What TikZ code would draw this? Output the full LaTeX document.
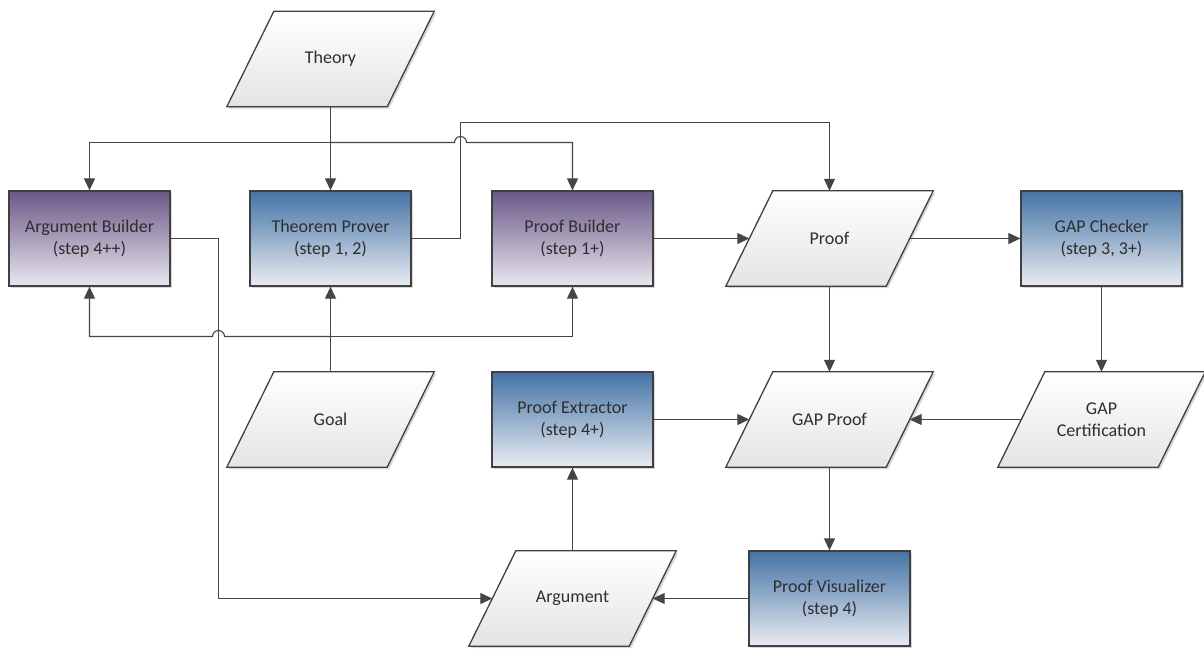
\documentclass[tikz,border=0pt]{standalone}
\usepackage{fontspec}
\setmainfont{Carlito}
\usetikzlibrary{arrows.meta,shadows,backgrounds}
\definecolor{blueT}{HTML}{4373A6}
\definecolor{blueB}{HTML}{E9ECF1}
\definecolor{purpT}{HTML}{6A5888}
\definecolor{purpB}{HTML}{EAE7EE}
\definecolor{paraB}{HTML}{E4E4E4}
\definecolor{edge}{HTML}{404040}
\definecolor{lin}{HTML}{454545}
\definecolor{txt}{HTML}{2E2E2E}
\begin{document}
\begin{tikzpicture}[x=1pt,y=1pt,
  box/.style={minimum width=161pt,minimum height=95pt,inner sep=0pt,align=center,
    font=\fontsize{18}{22}\selectfont,text=txt},
  shade/.style={drop shadow={shadow xshift=2pt,shadow yshift=-2pt,opacity=0.3}},
  bluebox/.style={box,draw=edge,line width=1.3pt,top color=blueT,bottom color=blueB,shade},
  purplebox/.style={box,draw=edge,line width=1.3pt,top color=purpT,bottom color=purpB,shade},
  databox/.style={box,minimum width=160pt},
  parashape/.style={draw=edge,line width=1.3pt,top color=white,bottom color=paraB,shade},
  conn/.style={draw=lin,line width=1.1pt,-{Triangle[length=12pt,width=11pt]}}
]
\useasboundingbox (0,0) rectangle (1204,-648);

% data (parallelogram) nodes
\node[databox] (theory)   at (330.5,-59)    {Theory};
\node[databox] (proof)    at (829.5,-238.5) {Proof};
\node[databox] (goal)     at (330.5,-419.5) {Goal};
\node[databox] (gapproof) at (829.5,-419.5) {GAP Proof};
\node[databox] (gapcert)  at (1101.5,-419.5) {GAP\\Certification};
\node[databox] (arg)      at (572.5,-598.5)   {Argument};

% process nodes
\node[purplebox] (argb) at (89.5,-238.5)  {Argument Builder\\(step 4++)};
\node[bluebox]   (thp)  at (330.5,-238.5) {Theorem Prover\\(step 1, 2)};
\node[purplebox] (pb)   at (572.5,-238.5)   {Proof Builder\\(step 1+)};
\node[bluebox]   (gapc) at (1101.5,-238.5) {GAP Checker\\(step 3, 3+)};
\node[bluebox]   (pe)   at (572.5,-419.5)   {Proof Extractor\\(step 4+)};
\node[bluebox]   (pv)   at (829.5,-598.5) {Proof Visualizer\\(step 4)};

\begin{pgfonlayer}{background}
\fill[white] (0,0) rectangle (1204,-648);
\foreach \n in {theory,proof,goal,gapproof,gapcert,arg}{
  \path[parashape] ([xshift=23.5pt]\n.north west) -- ([xshift=23.5pt]\n.north east)
    -- ([xshift=-23.5pt]\n.south east) -- ([xshift=-23.5pt]\n.south west) -- cycle;
}
\end{pgfonlayer}

% connectors
\coordinate (j1) at (330.5,-142.5);
\coordinate (j2) at (330.5,-336.5);
\draw[conn] (theory.south) -- (thp.north);
\draw[conn] (j1) -| (argb.north);
\draw[conn] (j1) -- (454.5,-142.5) arc[start angle=180,end angle=0,radius=6pt] -| (pb.north);
\draw[conn] (thp.east) -| (460.5,-122.5) -| (proof.north);
\draw[conn] (goal.north) -- (thp.south);
\draw[conn] (j2) -- (224.5,-336.5) arc[start angle=0,end angle=180,radius=6pt] -| (argb.south);
\draw[conn] (j2) -| (pb.south);
\draw[conn] (argb.east) -| (218.5,-598.5) -- (arg.west);
\draw[conn] (pb.east) -- (proof.west);
\draw[conn] (proof.east) -- (gapc.west);
\draw[conn] (proof.south) -- (gapproof.north);
\draw[conn] (gapc.south) -- (gapcert.north);
\draw[conn] (gapcert.west) -- (gapproof.east);
\draw[conn] (pe.east) -- (gapproof.west);
\draw[conn] (gapproof.south) -- (pv.north);
\draw[conn] (pv.west) -- (arg.east);
\draw[conn] (arg.north) -- (pe.south);
\end{tikzpicture}
\end{document}
